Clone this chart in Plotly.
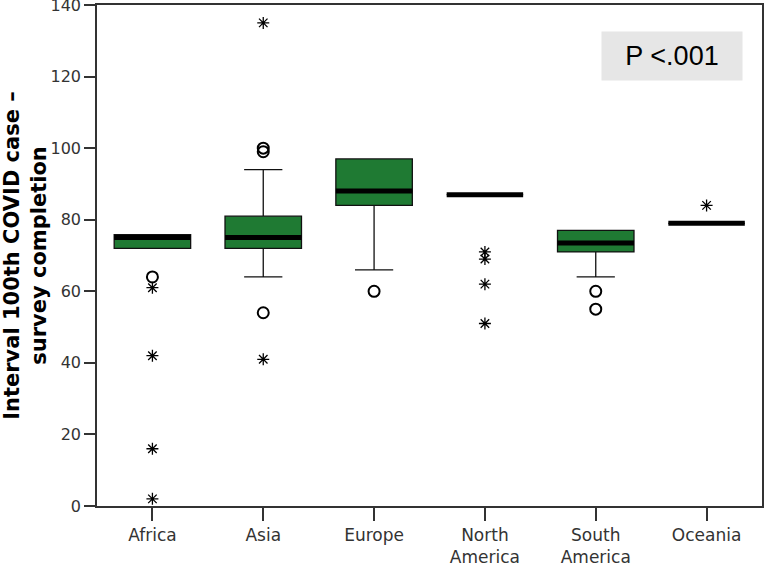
import plotly.graph_objects as go

categories = ["Africa", "Asia", "Europe", "North<br>America", "South<br>America", "Oceania"]
q1 = [72, 72, 84, 87, 71, 79]
median = [75, 75, 88, 87, 73.5, 79]
q3 = [75.8, 81, 97, 87, 77, 79]
lower_whisker = [72, 64, 66, 87, 64, 79]
upper_whisker = [75.8, 94, 97, 87, 77, 79]

# outliers (circles) and extreme values (stars): (category index, value)
outlier_cat = [0, 1, 1, 1, 2, 4, 4]
outlier_val = [64, 54, 99, 100, 60, 60, 55]
extreme_cat = [0, 0, 0, 0, 1, 1, 3, 3, 3, 3, 5]
extreme_val = [61, 42, 16, 2, 41, 135, 71, 69, 62, 51, 84]

y_ticks = [0, 20, 40, 60, 80, 100, 120, 140]

BOX_W = 0.69
GREEN = "#1f7a33"
x_idx = list(range(len(categories)))

fig = go.Figure()
fig.add_trace(go.Box(
    x=x_idx, q1=q1, median=median, q3=q3,
    lowerfence=lower_whisker, upperfence=upper_whisker,
    width=BOX_W, whiskerwidth=0.5,
    fillcolor=GREEN, line=dict(color="#111111", width=1.3),
    boxpoints=False, hoverinfo="skip", showlegend=False,
))

# thick median bars
mx, my = [], []
for i, m in zip(x_idx, median):
    mx += [i - BOX_W / 2, i + BOX_W / 2, None]
    my += [m, m, None]
fig.add_trace(go.Scatter(x=mx, y=my, mode="lines",
                         line=dict(color="black", width=5),
                         showlegend=False, hoverinfo="skip"))

fig.add_trace(go.Scatter(x=outlier_cat, y=outlier_val, mode="markers",
                         marker=dict(symbol="circle-open", size=11,
                                     color="black", line=dict(width=2)),
                         showlegend=False))
fig.add_trace(go.Scatter(x=extreme_cat, y=extreme_val, mode="markers",
                         marker=dict(symbol="asterisk-open", size=10,
                                     color="black", line=dict(width=1.3, color="black")),
                         showlegend=False))

fig.add_annotation(
    x=0.864, y=0.898, xref="paper", yref="paper",
    text="P <.001", showarrow=False,
    font=dict(family="Liberation Sans, Arial", size=27, color="black"),
    bgcolor="#e6e6e6", width=138, height=46, align="center",
    xanchor="center", yanchor="middle",
)

fig.update_layout(
    width=767, height=566,
    margin=dict(l=97, r=5, t=5, b=60),
    paper_bgcolor="white", plot_bgcolor="white",
    font=dict(family="DejaVu Sans", color="#333333"),
)
fig.update_xaxes(
    range=[-0.5, 5.5], tickvals=x_idx, ticktext=categories,
    ticks="outside", ticklen=13, tickcolor="#333333", tickwidth=1.5,
    showline=True, linecolor="#333333", linewidth=1.5, mirror=True,
    showgrid=False, zeroline=False, automargin=False,
    ticklabeloverflow="allow",
    tickfont=dict(size=17, color="#333333"),
)
fig.update_yaxes(
    range=[0, 140], tickvals=y_ticks,
    ticks="outside", ticklen=11, tickcolor="#333333", tickwidth=1.5,
    ticklabelstandoff=0, ticklabeloverflow="allow",
    showline=True, linecolor="#333333", linewidth=1.5, mirror=True,
    showgrid=False, zeroline=False, automargin=False,
    tickfont=dict(size=16, color="#333333"),
    title=dict(text="<b>Interval 100th COVID case –<br>survey completion</b>",
               font=dict(size=21, color="black", family="DejaVu Sans"),
               standoff=3),
)

fig.write_html(
    "out.html",
    config={"displayModeBar": False},
    post_script="document.body.style.margin='0';document.body.style.overflow='hidden';",
)
